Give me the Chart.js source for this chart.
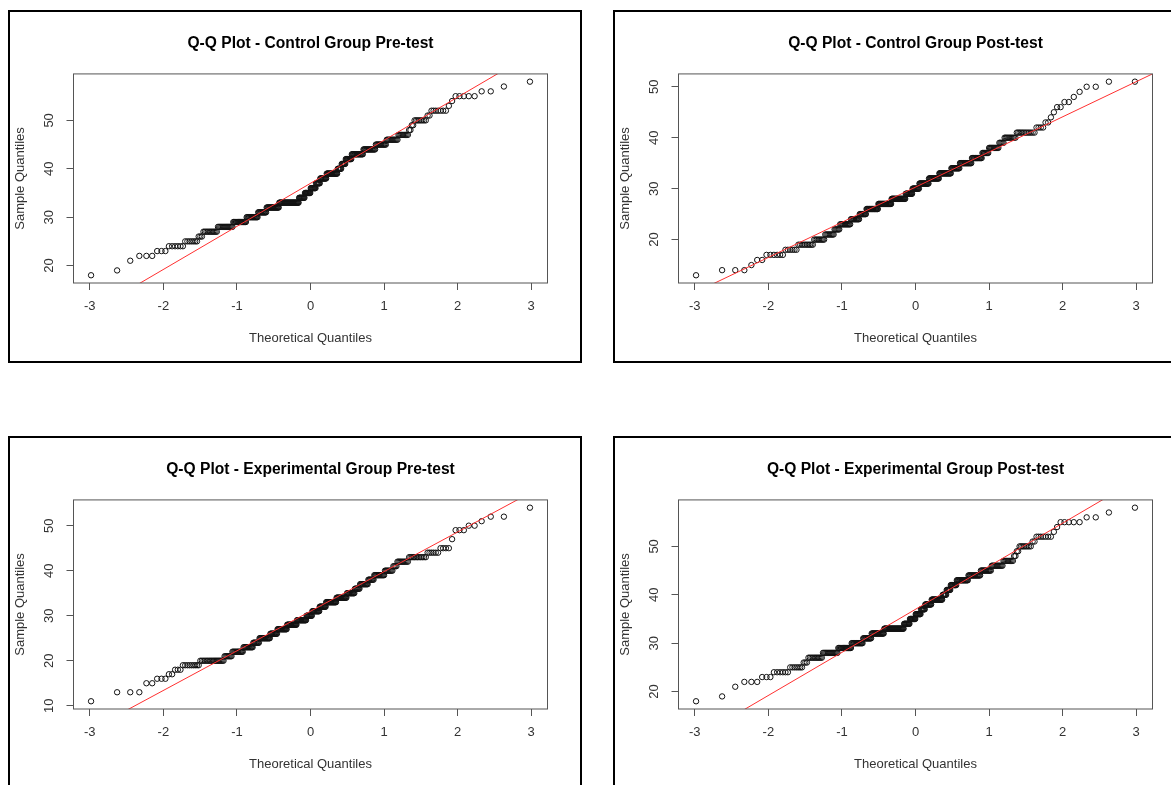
<!DOCTYPE html>
<html>
<head>
<meta charset="utf-8">
<script src="https://cdn.jsdelivr.net/npm/chart.js@4.4.0/dist/chart.umd.min.js"></script>
<style>
  html, body { margin: 0; padding: 0; background: #fff; overflow: hidden; width: 1171px; height: 785px; }
  .panel { position: absolute; width: 570px; height: 349px; border: 2px solid #000; background: #fff; }
  .panel canvas { display: block; }
</style>
</head>
<body>
<div class="panel" style="left:8px;top:10px"><canvas id="ctrlPre" width="570" height="349"></canvas></div>
<div class="panel" style="left:613px;top:10px"><canvas id="ctrlPost" width="570" height="349"></canvas></div>
<div class="panel" style="left:8px;top:436px"><canvas id="expPre" width="570" height="349"></canvas></div>
<div class="panel" style="left:613px;top:436px"><canvas id="expPost" width="570" height="349"></canvas></div>

<script>
const ctrlPreScores = [18, 19, 21, 22, 23, 24, 25, 26, 27, 28, 29, 30, 31, 32, 33, 34, 35, 36, 37, 38,
  39, 40, 41, 42, 43, 44, 45, 46, 47, 48, 49, 50, 51, 52, 53, 54, 55, 56, 57, 58];
const ctrlPreCounts = [1, 1, 1, 3, 3, 6, 7, 3, 11, 15, 16, 16, 13, 21, 36, 11, 11, 10, 8, 12,
  20, 7, 7, 10, 18, 17, 13, 12, 9, 2, 2, 8, 2, 7, 1, 1, 5, 2, 1, 1];

const ctrlPostScores = [13, 14, 15, 16, 17, 18, 19, 20, 21, 22, 23, 24, 25, 26, 27, 28, 29, 30, 31, 32,
  33, 34, 35, 36, 37, 38, 39, 40, 41, 42, 43, 44, 45, 46, 47, 48, 49, 50, 51];
const ctrlPostCounts = [1, 3, 1, 2, 6, 6, 10, 9, 9, 6, 13, 12, 10, 19, 23, 26, 13, 13, 18, 19,
  21, 14, 18, 14, 8, 11, 5, 10, 12, 4, 2, 1, 1, 2, 2, 1, 1, 2, 2];

const expPreScores = [11, 13, 15, 16, 17, 18, 19, 20, 21, 22, 23, 24, 25, 26, 27, 28, 29, 30, 31, 32,
  33, 34, 35, 36, 37, 38, 39, 40, 41, 42, 43, 44, 45, 47, 49, 50, 51, 52, 54];
const expPreCounts = [1, 3, 2, 3, 2, 3, 9, 19, 8, 13, 13, 9, 17, 12, 17, 18, 18, 11, 14, 12,
  19, 18, 13, 8, 12, 8, 13, 9, 4, 10, 12, 6, 4, 1, 3, 2, 1, 2, 1];

const expPostScores = [18, 19, 21, 22, 23, 24, 25, 26, 27, 28, 29, 30, 31, 32, 33, 34, 35, 36, 37, 38,
  39, 40, 41, 42, 43, 44, 45, 46, 47, 48, 49, 50, 51, 52, 53, 54, 55, 56, 57, 58];
const expPostCounts = [1, 1, 1, 3, 3, 6, 7, 3, 11, 15, 16, 16, 13, 21, 36, 11, 11, 10, 8, 12,
  20, 7, 7, 10, 18, 17, 13, 12, 9, 2, 2, 8, 2, 7, 1, 1, 5, 2, 1, 1];

// reference lines [intercept, slope] as drawn in red
const ctrlPreLine = [37.0, 8.9];
const ctrlPostLine = [30.3, 6.9];
const expPreLine = [31.0, 8.8];
const expPostLine = [37.0, 8.9];

const xTicks = [-3, -2, -1, 0, 1, 2, 3];
const yTicksCtrlPre = [20, 30, 40, 50];
const yTicksCtrlPost = [20, 30, 40, 50];
const yTicksExpPre = [10, 20, 30, 40, 50];
const yTicksExpPost = [20, 30, 40, 50];

const FONT = "'Liberation Sans', Arial, sans-serif";

// Acklam's approximation of the normal quantile function
function qnorm(p) {
  const a = [-3.969683028665376e+01, 2.209460984245205e+02, -2.759285104469687e+02, 1.383577518672690e+02, -3.066479806614716e+01, 2.506628277459239e+00];
  const b = [-5.447609879822406e+01, 1.615858368580409e+02, -1.556989798598866e+02, 6.680131188771972e+01, -1.328068155288572e+01];
  const c = [-7.784894002430293e-03, -3.223964580411365e-01, -2.400758277161838e+00, -2.549732539343734e+00, 4.374664141464968e+00, 2.938163982698783e+00];
  const d = [7.784695709041462e-03, 3.224671290700398e-01, 2.445134137142996e+00, 3.754408661907416e+00];
  const pl = 0.02425;
  if (p < pl) {
    const q = Math.sqrt(-2 * Math.log(p));
    return (((((c[0] * q + c[1]) * q + c[2]) * q + c[3]) * q + c[4]) * q + c[5]) / ((((d[0] * q + d[1]) * q + d[2]) * q + d[3]) * q + 1);
  }
  if (p > 1 - pl) {
    const q = Math.sqrt(-2 * Math.log(1 - p));
    return -(((((c[0] * q + c[1]) * q + c[2]) * q + c[3]) * q + c[4]) * q + c[5]) / ((((d[0] * q + d[1]) * q + d[2]) * q + d[3]) * q + 1);
  }
  const q = p - 0.5, r = q * q;
  return (((((a[0] * r + a[1]) * r + a[2]) * r + a[3]) * r + a[4]) * r + a[5]) * q / (((((b[0] * r + b[1]) * r + b[2]) * r + b[3]) * r + b[4]) * r + 1);
}

// sorted sample against theoretical quantiles, like qqnorm()
function qqPoints(scores, counts) {
  const ys = [];
  scores.forEach((s, i) => { for (let k = 0; k < counts[i]; k++) ys.push(s); });
  const n = ys.length;
  return ys.map((y, i) => ({ x: qnorm((i + 0.5) / n), y: y }));
}

// box around the plot region
const plotBox = {
  id: 'plotBox',
  afterDatasetsDraw(chart) {
    const { ctx, chartArea: a } = chart;
    ctx.save();
    ctx.strokeStyle = '#555';
    ctx.lineWidth = 1;
    ctx.strokeRect(a.left, a.top, a.right - a.left, a.bottom - a.top);
    ctx.restore();
  }
};

function makeQQ(id, title, scores, counts, yTicks, line) {
  const pts = qqPoints(scores, counts);
  const xs = pts.map(p => p.x), ys = pts.map(p => p.y);
  const xLo = Math.min(...xs), xHi = Math.max(...xs);
  const yLo = Math.min(...ys), yHi = Math.max(...ys);
  const xPad = (xHi - xLo) * 0.04, yPad = (yHi - yLo) * 0.04;
  const xMin = xLo - xPad, xMax = xHi + xPad;

  new Chart(document.getElementById(id), {
    type: 'scatter',
    data: {
      datasets: [
        {
          data: [{ x: xMin, y: line[0] + line[1] * xMin }, { x: xMax, y: line[0] + line[1] * xMax }],
          showLine: true,
          borderColor: '#ff3030',
          borderWidth: 1,
          pointRadius: 0,
          fill: false
        },
        {
          data: pts,
          pointRadius: 2.7,
          pointHoverRadius: 2.7,
          pointBorderWidth: 1,
          pointBorderColor: '#111',
          pointBackgroundColor: 'rgba(0,0,0,0)'
        }
      ]
    },
    options: {
      responsive: false,
      animation: false,
      devicePixelRatio: 1,
      events: [],
      layout: { padding: { left: 0, right: 32.5, top: 0, bottom: 0 } },
      plugins: {
        legend: { display: false },
        tooltip: { enabled: false },
        title: {
          display: true,
          text: title,
          fullSize: false,
          color: '#000',
          font: { family: FONT, size: 15.6, weight: 'bold' },
          padding: { top: 21.9, bottom: 21.3 }
        }
      },
      scales: {
        x: {
          type: 'linear',
          min: xMin,
          max: xMax,
          afterFit: s => { s.height = 78; },
          afterBuildTicks: s => { s.ticks = xTicks.map(v => ({ value: v })); },
          grid: { display: true, drawOnChartArea: false, drawTicks: true, tickLength: 7, color: '#555' },
          border: { display: false },
          ticks: { color: '#333', font: { family: FONT, size: 13 }, padding: 8.2, maxRotation: 0, autoSkip: false },
          title: { display: true, text: 'Theoretical Quantiles', color: '#333', font: { family: FONT, size: 13 }, padding: { top: 0, bottom: 15.2 } }
        },
        y: {
          type: 'linear',
          min: yLo - yPad,
          max: yHi + yPad,
          afterFit: s => { s.width = 63.5; },
          afterBuildTicks: s => { s.ticks = yTicks.map(v => ({ value: v })); },
          grid: { display: true, drawOnChartArea: false, drawTicks: true, tickLength: 7, color: '#555' },
          border: { display: false },
          ticks: { color: '#333', font: { family: FONT, size: 13 }, padding: 9.5, minRotation: 90, maxRotation: 90, crossAlign: 'center', autoSkip: false },
          title: { display: true, text: 'Sample Quantiles', color: '#333', font: { family: FONT, size: 13 }, padding: { top: 3, bottom: 0 } }
        }
      }
    },
    plugins: [plotBox]
  });
}

makeQQ('ctrlPre', 'Q-Q Plot - Control Group Pre-test', ctrlPreScores, ctrlPreCounts, yTicksCtrlPre, ctrlPreLine);
makeQQ('ctrlPost', 'Q-Q Plot - Control Group Post-test', ctrlPostScores, ctrlPostCounts, yTicksCtrlPost, ctrlPostLine);
makeQQ('expPre', 'Q-Q Plot - Experimental Group Pre-test', expPreScores, expPreCounts, yTicksExpPre, expPreLine);
makeQQ('expPost', 'Q-Q Plot - Experimental Group Post-test', expPostScores, expPostCounts, yTicksExpPost, expPostLine);
</script>
</body>
</html>
